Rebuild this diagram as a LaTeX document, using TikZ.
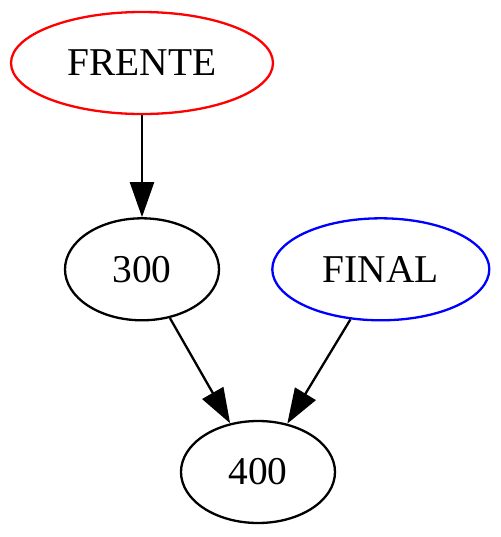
\documentclass[tikz,border=0pt]{standalone}
\usepackage{fontspec}
\setmainfont{Liberation Serif}
\usepackage{tikz}
\usetikzlibrary{shapes.geometric, positioning, arrows.meta}

\begin{document}
\begin{tikzpicture}[
    x=0.5pt, y=0.5pt,
    every node/.style = {
        draw, ellipse, line width=1.15pt, inner sep=0pt,
        minimum height=51pt, font=\fontsize{19.7}{24}\selectfont
    },
    edge/.style = {-{Triangle[length=17.5pt, width=12pt]}, line width=1.15pt}
  ]
    \useasboundingbox (0,0) rectangle (500,-537);
    \node[red, text=black, minimum width=131pt] (frente) at (142,-63) {FRENTE};  % inicio
    \node[minimum width=77pt, below=51pt of frente] (n300) {300};
    \node[blue, text=black, minimum width=108.5pt, right=25.5pt of n300] (final) {FINAL};  % fin
    \node[minimum width=77pt] (n400) at (258,-472) {400};
    \draw[edge] (frente) -- (n300);
    \draw[edge] (n300) -- (n400);
    \draw[edge] (final) -- (n400);
\end{tikzpicture}
\end{document}
